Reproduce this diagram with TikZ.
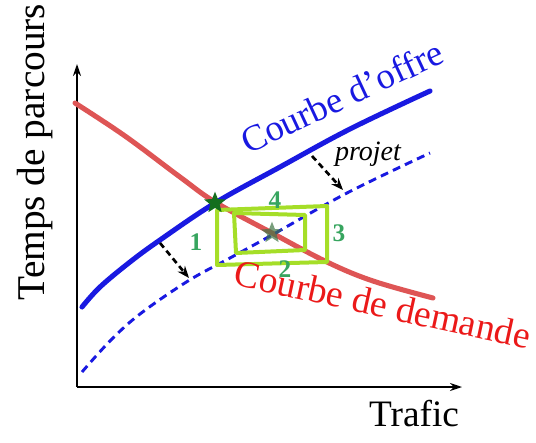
\documentclass[tikz,border=0pt]{standalone}
\usepackage{fontspec}
\setmainfont{Liberation Serif}
\usetikzlibrary{shapes.geometric,arrows.meta}
\definecolor{demred}{RGB}{222,85,85}
\definecolor{txtred}{RGB}{235,25,25}
\definecolor{offblue}{RGB}{25,25,225}
\definecolor{lime}{RGB}{165,222,40}
\definecolor{numgreen}{RGB}{55,165,95}
\definecolor{stargreen}{RGB}{20,110,30}
\tikzset{
  axis/.style={line width=1.1pt,-{Stealth[length=9pt,width=6pt]}},
  demand/.style={demred,line width=3.8pt,line cap=round},
  supply/.style={offblue,line width=3.8pt,line cap=round},
  newsupply/.style={offblue,line width=2.2pt,dash pattern=on 6pt off 4pt},
  shiftarrow/.style={black,line width=2pt,dash pattern=on 4.5pt off 3pt,-{Stealth[length=9pt,width=7pt]}},
  cyclebox/.style={lime,line width=3pt,line join=round},
  bigtext/.style={font=\fontsize{28}{31}\selectfont},
  num/.style={numgreen,font=\fontsize{19}{21}\selectfont\bfseries},
  starmark/.style={star,star points=5,star point ratio=2.3,inner sep=0pt,minimum size=17pt}
}
\begin{document}
\begin{tikzpicture}[x=0.75pt,y=-0.75pt]
\useasboundingbox (0,0) rectangle (536,443);
% axes
\coordinate (O) at (77,387);
\coordinate (Ytop) at (77,64);
\coordinate (Xend) at (462,387);
\draw[axis] (O) -- (Ytop);
\draw[axis] (O) -- (Xend);
\node[bigtext,rotate=90,anchor=base,font=\fontsize{29.5}{32}\selectfont] (ylab) at (44,152) {Temps de parcours};
\node[bigtext,anchor=base] (xlab) at (414,426) {Trafic};
% curves
\draw[demand] plot[smooth,tension=0.6] coordinates {(75,103) (125,136) (180,177) (215,202) (272,233) (327,262) (373,281) (433,298)};
\draw[newsupply] plot[smooth,tension=0.6] coordinates {(82,372) (110,341) (140,314) (188,281) (230,258) (272,235) (347,193) (430,153)};
\draw[supply] plot[smooth,tension=0.6] coordinates {(82,307) (100,287) (130,262) (160,240) (215,203) (280,167) (350,129) (430,91)};
% shift arrows
\coordinate (a1s) at (160,243);
\coordinate (a1e) at (189,278);
\coordinate (a2s) at (312,156);
\coordinate (a2e) at (343,190);
\draw[shiftarrow] (a1s) -- (a1e);
\draw[shiftarrow] (a2s) -- (a2e);
\node[font=\fontsize{21}{23}\selectfont\itshape,anchor=base] (proj) at (368,160) {projet};
% boxes
\coordinate (o1) at (217,210);
\coordinate (o2) at (327,206);
\coordinate (o3) at (327,262);
\coordinate (o4) at (217,265);
\coordinate (i1) at (234,213);
\coordinate (i2) at (305,215);
\coordinate (i3) at (305,250);
\coordinate (i4) at (236,253);
\draw[cyclebox] (o1) -- (o2) -- (o3) -- (o4) -- cycle;
\draw[cyclebox] (i1) -- (i2) -- (i3) -- (i4) -- cycle;
% stars
\node[starmark,fill=stargreen] (s1) at (215,203) {};
\node[starmark,fill=stargreen!60!gray,fill opacity=0.7] (s2) at (272,233) {};
% numbers
\node[num] (n1) at (196,242) {1};
\node[num] (n2) at (285,269) {2};
\node[num] (n3) at (339,233) {3};
\node[num] (n4) at (275,200) {4};
% curve labels
\node[offblue,anchor=base,rotate=25,font=\fontsize{27.5}{30}\selectfont] (offre) at (347,108) {Courbe d\char"0027offre};
\node[txtred,anchor=base,rotate=-12.3,font=\fontsize{28.3}{31}\selectfont] (demande) at (380,317) {Courbe de demande};
\end{tikzpicture}
\end{document}
